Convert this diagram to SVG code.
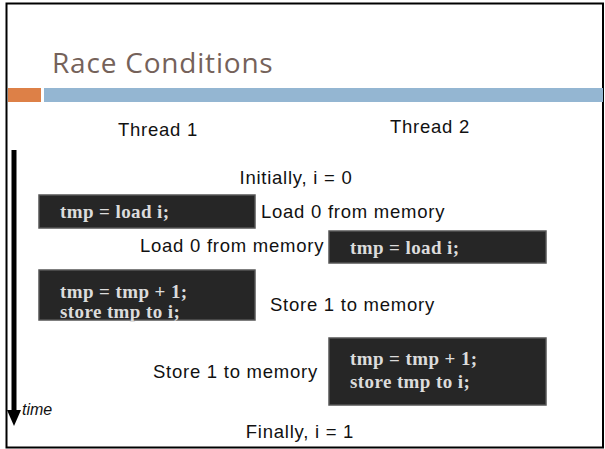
<svg xmlns="http://www.w3.org/2000/svg" width="605" height="449" viewBox="0 0 605 449">
<style>
.t{font-family:"Liberation Sans",Arial,sans-serif;font-size:18.5px;letter-spacing:0.75px;fill:#111}
.code{font-family:"Liberation Serif","Times New Roman",serif;font-size:19px;font-weight:bold;letter-spacing:0.4px;fill:#dcdcdc}
.box{fill:#262626;stroke:#555;stroke-width:1.5}
</style>
<rect x="0" y="0" width="605" height="449" fill="#fff"/>
<rect x="6.5" y="3.5" width="596.5" height="444" fill="none" stroke="#000" stroke-width="2"/>
<text x="52" y="73" style="font-family:'Open Sans',sans-serif;font-size:28px;letter-spacing:0.8px;fill:#75625a">Race Conditions</text>
<rect x="8" y="88" width="33" height="14" fill="#dd8047"/>
<rect x="44" y="88" width="559" height="14" fill="#94b6d2"/>
<g id="labels">
<text class="t" x="118" y="136">Thread 1</text>
<text class="t" x="390" y="133">Thread 2</text>
<text class="t" x="296" y="184" text-anchor="middle">Initially, i = 0</text>
<text class="t" x="261" y="218">Load 0 from memory</text>
<text class="t" x="140" y="252">Load 0 from memory</text>
<text class="t" x="270" y="311">Store 1 to memory</text>
<text class="t" x="153" y="378">Store 1 to memory</text>
<text class="t" x="300" y="438" text-anchor="middle">Finally, i = 1</text>
</g>
<g id="timeline">
<line x1="14" y1="150" x2="14" y2="412" stroke="#000" stroke-width="5"/>
<polygon points="7,410 21,410 14,426" fill="#000"/>
<text x="22" y="415" style="font-family:'Liberation Sans',Arial,sans-serif;font-size:16px;font-style:italic;fill:#111">time</text>
</g>
<g id="t1-load">
<rect class="box" x="39" y="195" width="216" height="33"/>
<text class="code" x="60" y="218">tmp = load i;</text>
</g>
<g id="t2-load">
<rect class="box" x="329" y="231" width="217" height="32"/>
<text class="code" x="350" y="254">tmp = load i;</text>
</g>
<g id="t1-store">
<rect class="box" x="39" y="270" width="216" height="50"/>
<text class="code" x="60" y="298">tmp = tmp + 1;</text>
<text class="code" x="60" y="318">store tmp to i;</text>
</g>
<g id="t2-store">
<rect class="box" x="329" y="338" width="217" height="67"/>
<text class="code" x="350" y="365">tmp = tmp + 1;</text>
<text class="code" x="350" y="388">store tmp to i;</text>
</g>
</svg>
